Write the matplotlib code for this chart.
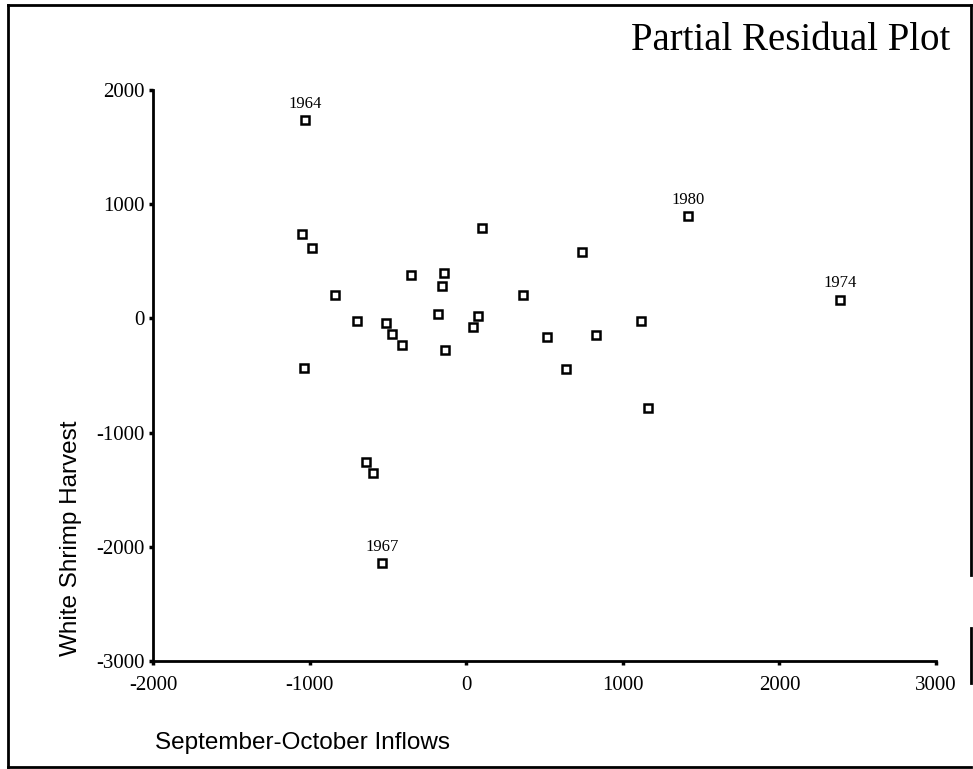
import matplotlib.pyplot as plt
from matplotlib.lines import Line2D

# Данные: частичные остатки (приток сентябрь-октябрь vs улов белой креветки)
inflows = [-1029, -1050, -986, -837, -695, -511, -471, -407, -351, -141,
           -155, -177, -137, 75, 43, 104, 362, 516, -1035, 739,
           1417, 2386, 1115, 827, 639, 1160, -639, -596, -535]
harvest = [1737, 743, 617, 202, -24, -37, -137, -237, 383, 397,
           287, 35, -275, 20, -76, 789, 202, -160, -430, 579,
           897, 164, -27, -143, -445, -787, -1254, -1351, -2146]
labels = {0: '1964', 20: '1980', 21: '1974', 28: '1967'}

x_ticks = [-2000, -1000, 0, 1000, 2000, 3000]
y_ticks = [-3000, -2000, -1000, 0, 1000, 2000]

serif = ['Liberation Serif', 'DejaVu Serif']
sans = ['Liberation Sans', 'DejaVu Sans']

fig = plt.figure(figsize=(9.73, 7.69), dpi=100)
ax = fig.add_axes([153 / 973, 1 - 661 / 769, (936 - 153) / 973, (661 - 90) / 769])

ax.plot(inflows, harvest, linestyle='none', marker='s', markersize=5.5,
        markerfacecolor='white', markeredgecolor='black', markeredgewidth=1.8,
        clip_on=False)

# подписи годов над выделенными точками
for i, text in labels.items():
    ax.annotate(text, xy=(inflows[i], harvest[i]), xytext=(0, 6),
                textcoords='offset points', ha='center', va='bottom',
                fontsize=12, family=serif)

ax.set_xlim(-2000, 3000)
ax.set_ylim(-3000, 2000)
ax.set_xticks(x_ticks)
ax.set_yticks(y_ticks)
ax.set_xticklabels([str(v) for v in x_ticks], family=serif, fontsize=15)
ax.set_yticklabels([str(v) for v in y_ticks], family=serif, fontsize=15)
ax.tick_params(direction='out', length=3, width=2.5)
ax.tick_params(axis='x', pad=8)
ax.tick_params(axis='y', pad=3)

for side in ['top', 'right']:
    ax.spines[side].set_visible(False)
for side in ['left', 'bottom']:
    ax.spines[side].set_linewidth(2)

fig.text(950 / 973, 1 - 40 / 769, 'Partial Residual Plot', ha='right', va='center',
         fontsize=28, family=serif)
fig.text(155 / 973, 1 - 743 / 769, 'September-October Inflows', ha='left', va='center',
         fontsize=17.5, family=sans)
fig.text(71 / 973, 1 - 538 / 769, 'White Shrimp Harvest', ha='center', va='center',
         rotation=90, fontsize=17.5, family=sans)

# рамка вокруг рисунка (справа с разрывами, как на оригинале)
W, H = 973, 769
frame = [((8, 5), (8, 767)), ((8, 767), (971, 767)), ((8, 5), (971, 5)),
         ((971, 5), (971, 575)), ((971, 628), (971, 683))]
for (x0, y0), (x1, y1) in frame:
    fig.add_artist(Line2D([x0 / W, x1 / W], [1 - y0 / H, 1 - y1 / H],
                          color='black', linewidth=2, transform=fig.transFigure))

fig.savefig('out.png', dpi=100)
plt.close(fig)
